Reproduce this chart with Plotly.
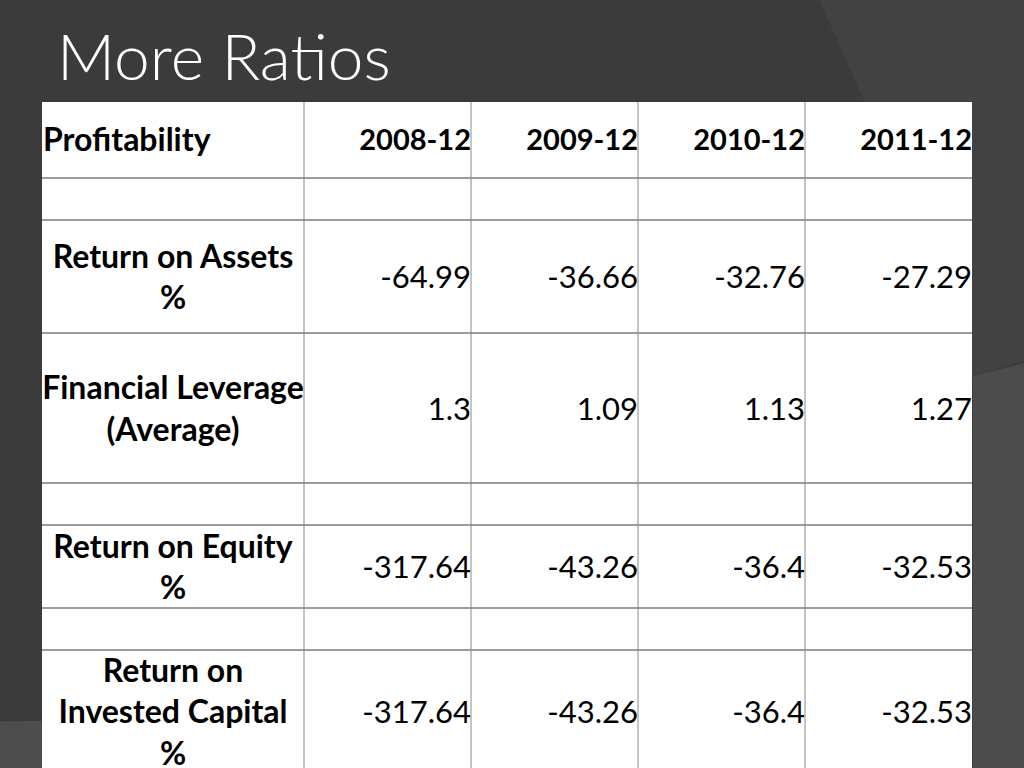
import plotly.graph_objects as go

# ---------------- data ----------------
title_text = "More Ratios"
header_label = "Profitability"
periods = ["2008-12", "2009-12", "2010-12", "2011-12"]
row_labels = ["", "Return on Assets<br>%", "Financial Leverage<br>(Average)", "",
              "Return on Equity<br>%", "", "Return on<br>Invested Capital<br>%"]
roa = [-64.99, -36.66, -32.76, -27.29]
fin_lev = [1.3, 1.09, 1.13, 1.27]
roe = [-317.64, -43.26, -36.4, -32.53]
roic = [-317.64, -43.26, -36.4, -32.53]
row_values = [None, roa, fin_lev, None, roe, None, roic]

# ---------------- table geometry / style ----------------
col_widths = [262, 167, 167, 167, 167]          # px
header_height = 76
row_heights = [42, 113, 150, 42, 83, 42, 123]    # px
TABLE_LEFT, TABLE_TOP = 42, 102
W, H = 1024, 768
FONT = "Lato"
PAD = 0
TEXT_SHIFT = 4

col_edges = [0]
for w in col_widths:
    col_edges.append(col_edges[-1] + w)
row_edges = [0, header_height]
for h in row_heights:
    row_edges.append(row_edges[-1] + h)
table_w = col_edges[-1]
visible_h = H - TABLE_TOP

def row_center(k):  # k = 0 is header
    return (row_edges[k] + row_edges[k + 1]) / 2 + TEXT_SHIFT

fig = go.Figure()

# header
fig.add_trace(go.Scatter(
    x=[1], y=[row_center(0) - 1], text=[header_label], mode="text",
    textposition="middle right", hoverinfo="skip", showlegend=False,
    textfont=dict(family=FONT, size=32, color="black", weight="bold")))
fig.add_trace(go.Scatter(
    x=[col_edges[j + 2] - PAD for j in range(len(periods))],
    y=[row_center(0) - 1] * len(periods), text=periods, mode="text",
    textposition="middle left", hoverinfo="skip", showlegend=False,
    textfont=dict(family=FONT, size=29, color="black", weight="bold")))

# row labels
lab_x, lab_y, lab_t = [], [], []
for i, t in enumerate(row_labels):
    if t:
        lab_x.append(col_widths[0] / 2)
        lab_y.append(row_center(i + 1))
        lab_t.append(t)
fig.add_trace(go.Scatter(
    x=lab_x, y=lab_y, text=lab_t, mode="text", textposition="middle center",
    hoverinfo="skip", showlegend=False,
    textfont=dict(family=FONT, size=32, color="black", weight="bold")))

# values
vx, vy, vt = [], [], []
for i, vals in enumerate(row_values):
    if vals is None:
        continue
    for j, v in enumerate(vals):
        vx.append(col_edges[j + 2] - PAD)
        vy.append(row_center(i + 1))
        vt.append(f"{v:g}")
fig.add_trace(go.Scatter(
    x=vx, y=vy, text=vt, mode="text", textposition="middle left",
    hoverinfo="skip", showlegend=False,
    textfont=dict(family=FONT, size=31, color="black")))

# cell background and grid lines
shapes = [
    # background decoration
    dict(type="path", xref="paper", yref="paper", layer="below",
         path="M 0.80,1 L 1,1 L 1,0.53 L 0.95,0.51 L 0.86,0.82 Z",
         fillcolor="#424242", line_width=0),
    dict(type="path", xref="paper", yref="paper", layer="below",
         path="M 0.95,0.51 L 1,0.527 L 1,0 L 0.95,0 Z",
         fillcolor="#4c4c4c", line_width=0),
    dict(type="path", xref="paper", yref="paper", layer="below",
         path="M 0,0.061 L 0.1,0.062 L 0.1,0 L 0,0 Z",
         fillcolor="#4d4d4d", line_width=0),
    dict(type="rect", xref="x", yref="y", layer="below",
         x0=0, x1=table_w, y0=0, y1=row_edges[-1],
         fillcolor="white", line_width=0),
]
for yv in row_edges[1:]:
    shapes.append(dict(type="line", xref="x", yref="y", x0=0, x1=table_w, y0=yv, y1=yv,
                       line=dict(color="#3a3a3a", width=1.2)))
for xv in col_edges[1:-1]:
    shapes.append(dict(type="line", xref="x", yref="y", x0=xv, x1=xv, y0=0, y1=row_edges[-1],
                       line=dict(color="#8a8a8a", width=1)))

bg = "#3b3b3b"
fig.update_layout(
    width=W, height=H,
    margin=dict(l=0, r=0, t=0, b=0),
    paper_bgcolor=bg, plot_bgcolor="rgba(0,0,0,0)",
    xaxis=dict(range=[0, table_w], domain=[TABLE_LEFT / W, (TABLE_LEFT + table_w) / W],
               visible=False, fixedrange=True),
    yaxis=dict(range=[visible_h, 0], domain=[0, visible_h / H],
               visible=False, fixedrange=True),
    shapes=shapes,
    annotations=[dict(text=title_text, xref="paper", yref="paper", x=55 / W, y=1 - 56 / H,
                      xanchor="left", yanchor="middle", showarrow=False,
                      font=dict(family="Lato", size=64, color="white", weight=300))],
)
fig.write_html("out.html", config={"displayModeBar": False},
               post_script="document.body.style.margin='0';")
